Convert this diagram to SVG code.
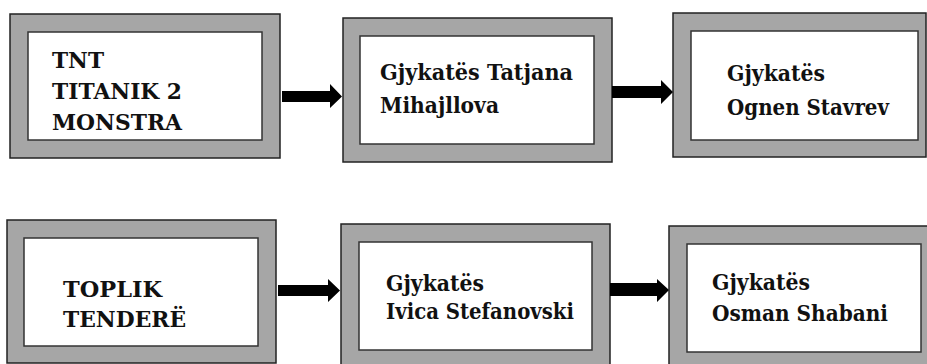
<svg xmlns="http://www.w3.org/2000/svg" width="927" height="364" viewBox="0 0 927 364">
<style>
.outer{fill:#a6a6a6;stroke:#222;stroke-width:1.5}
.inner{fill:#fff;stroke:#333;stroke-width:1.5}
.t{font-family:'DejaVu Serif',serif;font-weight:700;font-size:23px;fill:#111}
.arrow{fill:#000}
</style>
<rect width="927" height="364" fill="#fff"/>
<g id="node-tnt">
<rect class="outer" x="10" y="14" width="270" height="144"/>
<rect class="inner" x="28" y="32" width="234" height="108"/>
<text class="t" x="52" y="68" textLength="52" lengthAdjust="spacingAndGlyphs">TNT</text>
<text class="t" x="52" y="99" textLength="130" lengthAdjust="spacingAndGlyphs">TITANIK 2</text>
<text class="t" x="52" y="130" textLength="130" lengthAdjust="spacingAndGlyphs">MONSTRA</text>
</g>
<g id="node-tatjana">
<rect class="outer" x="343" y="18" width="269" height="144"/>
<rect class="inner" x="360" y="36" width="234" height="108"/>
<text class="t" x="380" y="80" textLength="193" lengthAdjust="spacingAndGlyphs">Gjykatës Tatjana</text>
<text class="t" x="380" y="113" textLength="119" lengthAdjust="spacingAndGlyphs">Mihajllova</text>
</g>
<g id="node-ognen">
<rect class="outer" x="673" y="13" width="253" height="144"/>
<rect class="inner" x="691" y="31" width="227" height="109"/>
<text class="t" x="727" y="81" textLength="98" lengthAdjust="spacingAndGlyphs">Gjykatës</text>
<text class="t" x="727" y="115" textLength="162" lengthAdjust="spacingAndGlyphs">Ognen Stavrev</text>
</g>
<g id="node-toplik">
<rect class="outer" x="7" y="220" width="269" height="143"/>
<rect class="inner" x="24" y="238" width="234" height="108"/>
<text class="t" x="63" y="297" textLength="99" lengthAdjust="spacingAndGlyphs">TOPLIK</text>
<text class="t" x="63" y="327" textLength="123" lengthAdjust="spacingAndGlyphs">TENDERË</text>
</g>
<g id="node-ivica">
<rect class="outer" x="341" y="224" width="269" height="150"/>
<rect class="inner" x="359" y="242" width="233" height="108"/>
<text class="t" x="386" y="291" textLength="98" lengthAdjust="spacingAndGlyphs">Gjykatës</text>
<text class="t" x="386" y="319" textLength="188" lengthAdjust="spacingAndGlyphs">Ivica Stefanovski</text>
</g>
<g id="node-osman">
<rect class="outer" x="669" y="226" width="270" height="150"/>
<rect class="inner" x="687" y="244" width="234" height="108"/>
<text class="t" x="712" y="290" textLength="98" lengthAdjust="spacingAndGlyphs">Gjykatës</text>
<text class="t" x="712" y="321" textLength="176" lengthAdjust="spacingAndGlyphs">Osman Shabani</text>
</g>
<g id="connectors">
<path class="arrow" d="M282,91 H330 V84 L342,96.5 L330,108 V102 H282 Z"/>
<path class="arrow" d="M612,86 H661 V80 L673,92 L661,104 V98 H612 Z"/>
<path class="arrow" d="M278,285 H328 V279 L340,290.5 L328,302 V296 H278 Z"/>
<path class="arrow" d="M610,283 H657 V279 L669,290 L657,302 V296 H610 Z"/>
</g>
</svg>
